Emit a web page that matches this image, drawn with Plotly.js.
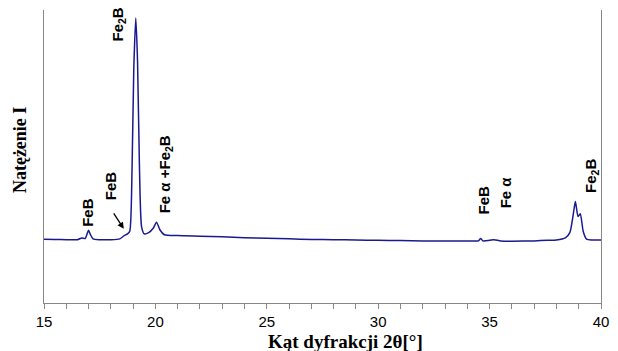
<!DOCTYPE html>
<html>
<head>
<meta charset="utf-8">
<script src="https://cdn.plot.ly/plotly-3.0.1.min.js"></script>
<style>html,body{margin:0;padding:0;background:#fff;}#chart{width:618px;height:351px;}</style>
</head>
<body>
<div id="chart"></div>
<script>
// 2-theta angle (deg)
var angle = [15.0, 15.5, 16.0, 16.5, 16.7, 16.85, 16.93, 17.0, 17.08, 17.2, 17.5, 18.0, 18.4, 18.6, 18.75, 18.85, 18.95, 19.03, 19.12, 19.2, 19.28, 19.38, 19.5, 19.7, 19.9, 20.05, 20.2, 20.4, 21.0, 22.0, 23.0, 24.0, 25.0, 26.0, 27.0, 28.0, 29.0, 30.0, 31.0, 32.0, 33.0, 34.0, 34.5, 34.6, 34.7, 35.0, 35.2, 35.5, 36.0, 37.0, 37.6, 38.0, 38.4, 38.6, 38.75, 38.85, 38.97, 39.07, 39.2, 39.35, 39.6, 40.0];
// intensity (arbitrary units)
var intensity = [21.8, 21.7, 21.6, 21.6, 22.2, 22.0, 23.5, 24.8, 23.4, 21.9, 21.6, 21.6, 21.9, 23.0, 23.6, 24.5, 45.0, 80.0, 97.3, 82.0, 48.0, 26.0, 23.6, 24.0, 25.5, 27.6, 25.0, 23.3, 23.0, 22.8, 22.6, 22.3, 22.1, 21.9, 21.7, 21.6, 21.5, 21.4, 21.3, 21.2, 21.2, 21.2, 21.2, 22.0, 21.2, 21.4, 21.6, 21.2, 21.1, 21.2, 21.4, 21.5, 22.2, 24.0, 30.0, 34.6, 29.5, 30.5, 24.5, 21.8, 21.5, 21.5];
// peak labels
var labelText = ["FeB", "FeB", "Fe<sub>2</sub>B", "Fe \u03b1 +Fe<sub>2</sub>B", "FeB", "Fe \u03b1", "Fe<sub>2</sub>B"];
var labelX = [16.95, 18.0, 18.34, 20.44, 34.71, 35.7, 39.6];
var labelY = [25.3, 34.5, 88.7, 30.0, 29.4, 31.7, 36.9];
var xTicks = [15, 20, 25, 30, 35, 40];
var xTitle = 'K\u0105t dyfrakcji 2\u03b8[\u00b0]';
var yTitle = 'Nat\u0119\u017cenie I';

var annotations = labelText.map(function (t, i) {
  return {
    x: labelX[i], y: labelY[i], xref: 'x', yref: 'y',
    text: '<b>' + t + '</b>', showarrow: false, textangle: -90,
    xanchor: 'center', yanchor: 'bottom',
    font: {family: 'Liberation Sans, Arial, sans-serif', size: 15, color: '#000'}
  };
});
annotations.push({
  x: 18.58, y: 25.3, xref: 'x', yref: 'y', text: '', showarrow: true,
  ax: -11, ay: -17, arrowhead: 2, arrowsize: 1, arrowwidth: 1.3, arrowcolor: '#000'
});
annotations.push({
  x: 0.542, y: -0.1297, xref: 'paper', yref: 'paper', text: '<b>' + xTitle + '</b>',
  showarrow: false, xanchor: 'center', yanchor: 'middle',
  font: {family: 'Liberation Serif, Times New Roman, serif', size: 19, color: '#000'}
});
annotations.push({
  x: -0.043, y: 0.522, xref: 'paper', yref: 'paper', text: '<b>' + yTitle + '</b>',
  showarrow: false, textangle: -90, xanchor: 'center', yanchor: 'middle',
  font: {family: 'Liberation Serif, Times New Roman, serif', size: 18, color: '#000'}
});

var trace = {
  x: angle, y: intensity, type: 'scatter', mode: 'lines',
  line: {color: '#1a1a90', width: 1.5, shape: 'spline', smoothing: 0.6},
  hoverinfo: 'skip'
};

var layout = {
  width: 618, height: 351,
  margin: {l: 44, r: 17, t: 10, b: 48},
  paper_bgcolor: '#fff', plot_bgcolor: '#fff',
  showlegend: false,
  xaxis: {
    range: [15, 40], tickvals: xTicks, ticktext: xTicks.map(String),
    showgrid: false, zeroline: false,
    showline: true, linecolor: '#888', linewidth: 1,
    ticks: 'outside', ticklen: 5, tickcolor: '#888', tickwidth: 1,
    minor: {dtick: 1, ticks: 'outside', ticklen: 5, tickcolor: '#888', showgrid: false},
    tickfont: {family: 'Liberation Sans, Arial, sans-serif', size: 15, color: '#000'}
  },
  yaxis: {
    range: [0, 100], showticklabels: false, ticks: '',
    showgrid: false, zeroline: false,
    showline: true, mirror: true, linecolor: '#888', linewidth: 1
  },
  annotations: annotations
};

Plotly.newPlot('chart', [trace], layout, {staticPlot: true, displayModeBar: false});
</script>
</body>
</html>
